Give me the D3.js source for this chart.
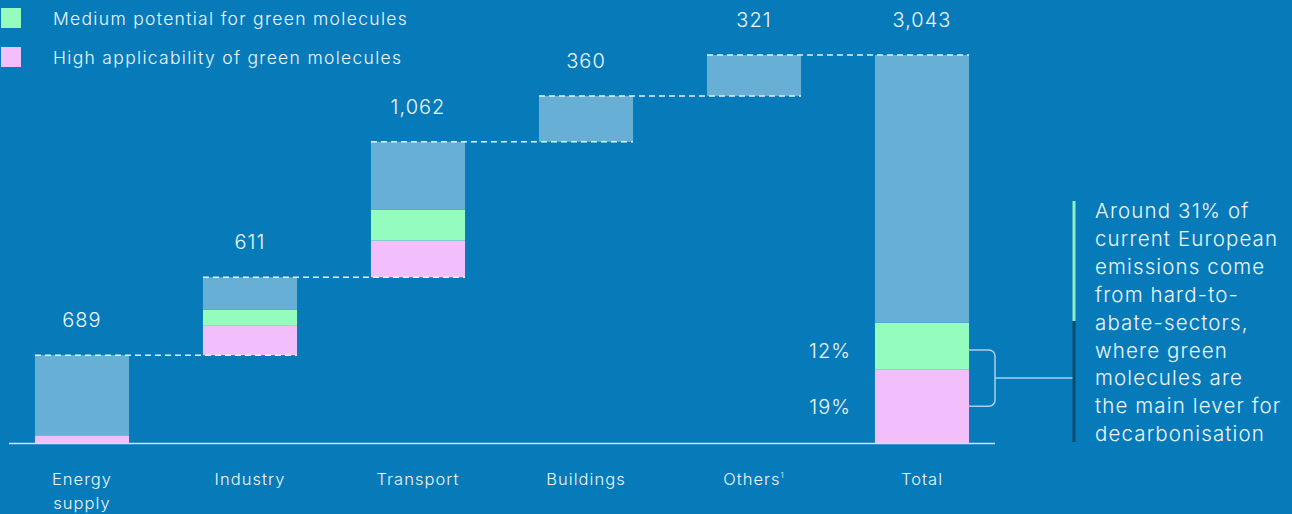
<!DOCTYPE html>
<html>
<head>
<meta charset="utf-8">
<script src="https://cdn.jsdelivr.net/npm/d3@7"></script>
<style>
  html, body { margin: 0; padding: 0; background: #077bb9; }
  svg { display: block; font-family: "Inter", "Lato", sans-serif; letter-spacing: 0.065em; }
</style>
</head>
<body>
<div id="chart"></div>
<script>
// data (Mt CO2e)
const categories = ["Energy supply", "Industry", "Transport", "Buildings", "Others", "Total"];
const totals = [689, 611, 1062, 360, 321, 3043];
const highApplicability = [60, 230, 288, 0, 0, 578];
const mediumPotential = [0, 125, 240, 0, 0, 365];
const valueLabels = ["689", "611", "1,062", "360", "321", "3,043"];
const shareLabels = ["12%", "19%"];
const legendLabels = ["Medium potential for green molecules", "High applicability of green molecules"];
const noteLines = ["Around 31% of", "current European", "emissions come", "from hard-to-", "abate-sectors,", "where green", "molecules are", "the main lever for", "decarbonisation"];

const width = 1292, height = 514;
const colors = { bg: "#077bb9", rest: "#68afd6", medium: "#94fdbd", high: "#f3befc", text: "#eef6fb", line: "#cfe4f1" };

const svg = d3.select("#chart").append("svg").attr("width", width).attr("height", height);
svg.append("rect").attr("width", width).attr("height", height).attr("fill", colors.bg);

const x = d3.scaleBand().domain(categories).range([-2, 1006]).paddingInner(0.44).paddingOuter(0.22);
const y = d3.scaleLinear().domain([0, 3043]).range([443, 55]);

// waterfall bases
let run = 0;
const bars = categories.map((c, i) => {
  const isTotal = i === categories.length - 1;
  const base = isTotal ? 0 : run;
  if (!isTotal) run += totals[i];
  return { cat: c, base, total: totals[i], high: highApplicability[i], medium: mediumPotential[i], label: valueLabels[i] };
});

const segs = [];
bars.forEach((b) => {
  segs.push({ cat: b.cat, y0: b.base, y1: b.base + b.high, color: colors.high });
  segs.push({ cat: b.cat, y0: b.base + b.high, y1: b.base + b.high + b.medium, color: colors.medium });
  segs.push({ cat: b.cat, y0: b.base + b.high + b.medium, y1: b.base + b.total, color: colors.rest });
});

svg.append("g").selectAll("rect")
  .data(segs.filter((s) => s.y1 > s.y0))
  .join("rect")
  .attr("x", (d) => x(d.cat))
  .attr("width", x.bandwidth())
  .attr("y", (d) => y(d.y1))
  .attr("height", (d) => y(d.y0) - y(d.y1))
  .attr("fill", (d) => d.color);

// dashed connectors
const links = bars.slice(0, -1).map((b, i) => ({ from: b.cat, to: categories[i + 1], v: b.base + b.total }));
svg.append("g").selectAll("line")
  .data(links)
  .join("line")
  .attr("x1", (d) => x(d.from))
  .attr("x2", (d) => x(d.to) + x.bandwidth())
  .attr("y1", (d) => y(d.v))
  .attr("y2", (d) => y(d.v))
  .attr("stroke", "#e6f2f9")
  .attr("stroke-width", 1.5)
  .attr("stroke-dasharray", "6,4");

// baseline
svg.append("line")
  .attr("x1", 9).attr("x2", 995)
  .attr("y1", y(0) + 0.5).attr("y2", y(0) + 0.5)
  .attr("stroke", colors.line).attr("stroke-width", 1.5);

// value labels
svg.append("g").selectAll("text")
  .data(bars)
  .join("text")
  .attr("x", (d) => x(d.cat) + x.bandwidth() / 2)
  .attr("y", (d) => y(d.base + d.total) - 28)
  .attr("text-anchor", "middle")
  .attr("fill", colors.text)
  .attr("font-size", 20)
  .attr("font-weight", 300)
  .text((d) => d.label);

// category labels
const catText = svg.append("g").selectAll("text")
  .data(categories)
  .join("text")
  .attr("x", (d) => x(d) + x.bandwidth() / 2)
  .attr("y", 485)
  .attr("text-anchor", "middle")
  .attr("fill", colors.text)
  .attr("font-size", 16.5)
  .attr("font-weight", 300);
catText.each(function (d) {
  const t = d3.select(this);
  if (d === "Energy supply") {
    t.append("tspan").attr("x", x(d) + x.bandwidth() / 2).text("Energy");
    t.append("tspan").attr("x", x(d) + x.bandwidth() / 2).attr("dy", 24).text("supply");
  } else if (d === "Others") {
    t.append("tspan").text("Others");
    t.append("tspan").attr("font-size", 8).attr("dy", -7).text("1");
  } else {
    t.text(d);
  }
});

// share labels on total bar
const tot = bars[bars.length - 1];
const greenMid = (y(tot.high) + y(tot.high + tot.medium)) / 2;
const pinkMid = (y(0) + y(tot.high)) / 2;
svg.append("g").selectAll("text")
  .data([{ t: shareLabels[0], yy: greenMid + 5 }, { t: shareLabels[1], yy: pinkMid + 1 }])
  .join("text")
  .attr("x", 851)
  .attr("y", (d) => d.yy + 7)
  .attr("text-anchor", "end")
  .attr("fill", colors.text)
  .attr("font-size", 20)
  .attr("font-weight", 300)
  .text((d) => d.t);

// bracket
const bx0 = x("Total") + x.bandwidth();
const bTop = greenMid + 4, bBot = pinkMid, bx1 = 995, r = 6;
const bMid = (bTop + bBot) / 2;
const bp = d3.path();
bp.moveTo(bx0, bTop);
bp.lineTo(bx1 - r, bTop);
bp.arcTo(bx1, bTop, bx1, bTop + r, r);
bp.lineTo(bx1, bBot - r);
bp.arcTo(bx1, bBot, bx1 - r, bBot, r);
bp.lineTo(bx0, bBot);
bp.moveTo(bx1, bMid);
bp.lineTo(1073, bMid);
svg.append("path").attr("d", bp.toString()).attr("fill", "none").attr("stroke", "#a9d0e8").attr("stroke-width", 1.5);

// note bar
svg.append("line").attr("x1", 1074).attr("x2", 1074).attr("y1", 201).attr("y2", 321)
  .attr("stroke", "#8ff0c0").attr("stroke-width", 3);
svg.append("line").attr("x1", 1074).attr("x2", 1074).attr("y1", 321).attr("y2", 442)
  .attr("stroke", "#0b4d6e").attr("stroke-width", 3);

svg.append("g").selectAll("text")
  .data(noteLines)
  .join("text")
  .attr("x", 1095)
  .attr("y", (d, i) => 218 + i * 27.9)
  .attr("fill", colors.text)
  .attr("font-size", 20.5)
  .attr("font-weight", 300)
  .attr("letter-spacing", "0.055em")
  .text((d) => d);

// legend
const legend = svg.append("g").selectAll("g")
  .data(legendLabels)
  .join("g")
  .attr("transform", (d, i) => `translate(0,${8 + i * 39})`);
legend.append("rect").attr("x", 1).attr("width", 20).attr("height", 20)
  .attr("fill", (d, i) => (i === 0 ? colors.medium : colors.high));
legend.append("text").attr("x", 53).attr("y", 17)
  .attr("fill", colors.text).attr("font-size", 17.5).attr("font-weight", 300)
  .attr("letter-spacing", "0.075em")
  .text((d) => d);
</script>
</body>
</html>
